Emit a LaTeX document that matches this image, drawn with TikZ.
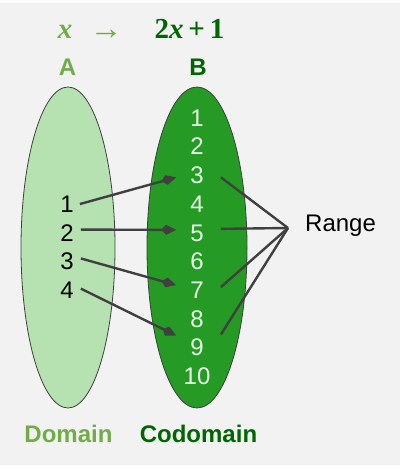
\documentclass[tikz,border=0pt]{standalone}
\usepackage{fontspec}
\setmainfont{Liberation Sans}
\newfontfamily\serifm{Liberation Serif}
\usetikzlibrary{arrows.meta,shapes.geometric}
\definecolor{bgc}{HTML}{F2F2F2}
\definecolor{lgreen}{HTML}{70AD47}
\definecolor{dgreen}{HTML}{006600}
\definecolor{afill}{HTML}{B5E2B0}
\definecolor{bfill}{HTML}{259A25}
\definecolor{linec}{HTML}{404040}
\definecolor{btext}{HTML}{E8FFE8}
\begin{document}
\begin{tikzpicture}[x=1bp,y=-1bp,
  big/.style={font=\fontsize{24bp}{28bp}\selectfont, inner sep=0pt, anchor=base},
  bigbold/.style={font=\fontsize{24bp}{28bp}\selectfont\bfseries, inner sep=0pt, anchor=base},
  mathtxt/.style={font=\fontsize{29bp}{34bp}\selectfont\serifm, inner sep=0pt, anchor=base},
  setshape/.style={ellipse, draw=linec, line width=0.8bp, inner sep=0pt},
  arr/.style={draw=linec, line width=2.4bp, -{Kite[length=15bp,width=10bp,inset=5bp]}},
  rng/.style={draw=linec, line width=2.4bp}]
\useasboundingbox (0,0) rectangle (400,468);
\fill[white] (0,0) rectangle (400,468);
\fill[bgc] (0,3) rectangle (400,465);
% title
\node[mathtxt, text=lgreen] (fx) at (65,39) {\bfseries\itshape x};
\node[mathtxt, text=lgreen, font=\fontsize{33bp}{38bp}\selectfont\serifm] (maps) at (106,40) {→};
\node[mathtxt, text=dgreen] (gx) at (189.5,39) {\bfseries 2\textit{x}\,+\,1};
% set labels
\node[bigbold, text=lgreen] (labA) at (67.5,76) {A};
\node[bigbold, text=dgreen] (labB) at (198,76) {B};
\node[bigbold, text=lgreen] (dom) at (68.5,442) {Domain};
\node[bigbold, text=dgreen] (codom) at (198.5,442) {Codomain};
% sets
\node[setshape, fill=afill, minimum width=94bp, minimum height=321bp] (setA) at (68,247.5) {};
\node[setshape, fill=bfill, minimum width=100bp, minimum height=321bp] (setB) at (197,247.5) {};
% elements
\foreach \k in {1,...,4}
  \node[big] (a\k) at (67,{241+(\k-2)*28.7}) {\k};
\foreach \k in {1,...,10}
  \node[big, text=btext] (b\k) at (197,{241+(\k-5)*28.7}) {\k};
% mapping arrows
\draw[arr] ([xshift=6bp]a1.east) -- ([xshift=-14bp,yshift=-2bp]b3.west);
\draw[arr] ([xshift=7bp,yshift=3bp]a2.east) -- ([xshift=-14bp,yshift=3bp]b5.west);
\draw[arr] ([xshift=7bp,yshift=3bp]a3.east) -- ([xshift=-14bp,yshift=5bp]b7.west);
\draw[arr] ([xshift=7bp,yshift=1.5bp]a4.east) -- ([xshift=-14bp,yshift=12bp]b9.west);
% range
\node[big, anchor=base west] (range) at (305,232) {Range};
\coordinate (hub) at (288,228);
\draw[rng] ([xshift=17bp,yshift=-2bp]b3.east) -- (hub);
\draw[rng] ([xshift=17bp,yshift=4bp]b5.east) -- (hub);
\draw[rng] ([xshift=17bp,yshift=3bp]b7.east) -- (hub);
\draw[rng] ([xshift=17bp,yshift=13bp]b9.east) -- (hub);
\end{tikzpicture}
\end{document}
